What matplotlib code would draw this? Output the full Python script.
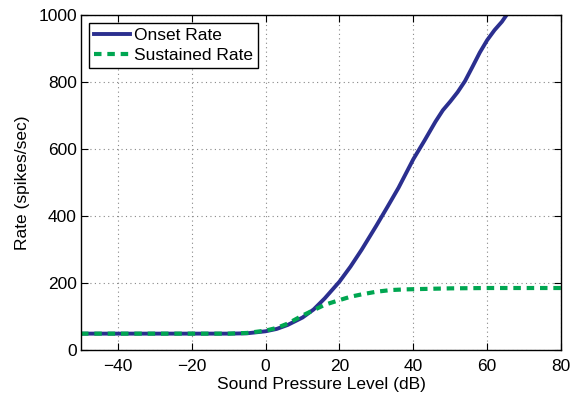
import numpy as np
import matplotlib.pyplot as plt

plt.rcParams['font.family'] = ['Liberation Sans', 'DejaVu Sans']

spl = [-50, -40, -30, -20, -10, -5, 0, 3, 6, 10, 13, 16, 20, 23, 26, 30,
       33, 36, 40, 43, 46, 48, 50, 52, 54, 56, 58, 60, 62, 64, 66]
onset = [50, 50, 50, 50, 50, 51, 57, 64, 76, 98, 122, 155, 205, 250, 300,
         372, 428, 485, 570, 625, 682, 716, 742, 770, 803, 845, 888, 925,
         955, 980, 1012]

spl_s = [-50, -40, -30, -20, -10, -5, 0, 3, 6, 10, 13, 16, 20, 23, 26, 30,
         34, 38, 42, 50, 60, 70, 80]
sustained = [50, 50, 50, 50, 50, 52, 59, 67, 80, 104, 120, 136, 150, 160,
             167, 175, 180, 182, 183, 185, 186, 186, 186]

fig = plt.figure(figsize=(5.83, 3.94), dpi=100)
ax = fig.add_axes([81 / 583, 1 - 350.4 / 394, 480 / 583, 335.4 / 394])

ax.plot(spl, onset, color='#2b2f8f', lw=2.8, label='Onset Rate')
ax.plot(spl_s, sustained, color='#00a651', lw=3.0, ls=(0, (1.8, 1.4)),
        label='Sustained Rate')

ax.set_xlim(-50, 80)
ax.set_ylim(0, 1000)
ax.set_xticks(np.arange(-40, 81, 20))
ax.set_xticklabels(['\u221240', '\u221220', '0', '20', '40', '60', '80'])
ax.set_yticks(np.arange(0, 1001, 200))
ax.tick_params(direction='in', top=True, right=True, labelsize=12.5,
               length=5, pad=3)
ax.tick_params(axis='x', pad=6)
ax.grid(True, ls=(0, (1, 3)), color='#888888', lw=0.8)
for s in ax.spines.values():
    s.set_color('black')
    s.set_linewidth(1.0)

ax.set_xlabel('Sound Pressure Level (dB)', fontsize=12.5, labelpad=2)
ax.set_ylabel('Rate (spikes/sec)', fontsize=12.5, labelpad=6)

leg = ax.legend(loc='upper left', fontsize=12.5, handlelength=2.1,
                fancybox=False, framealpha=1, edgecolor='black',
                borderpad=0.3, labelspacing=0.25, handletextpad=0.2,
                borderaxespad=0.45)
leg.get_frame().set_linewidth(1.0)

fig.savefig('out.png', dpi=100)
